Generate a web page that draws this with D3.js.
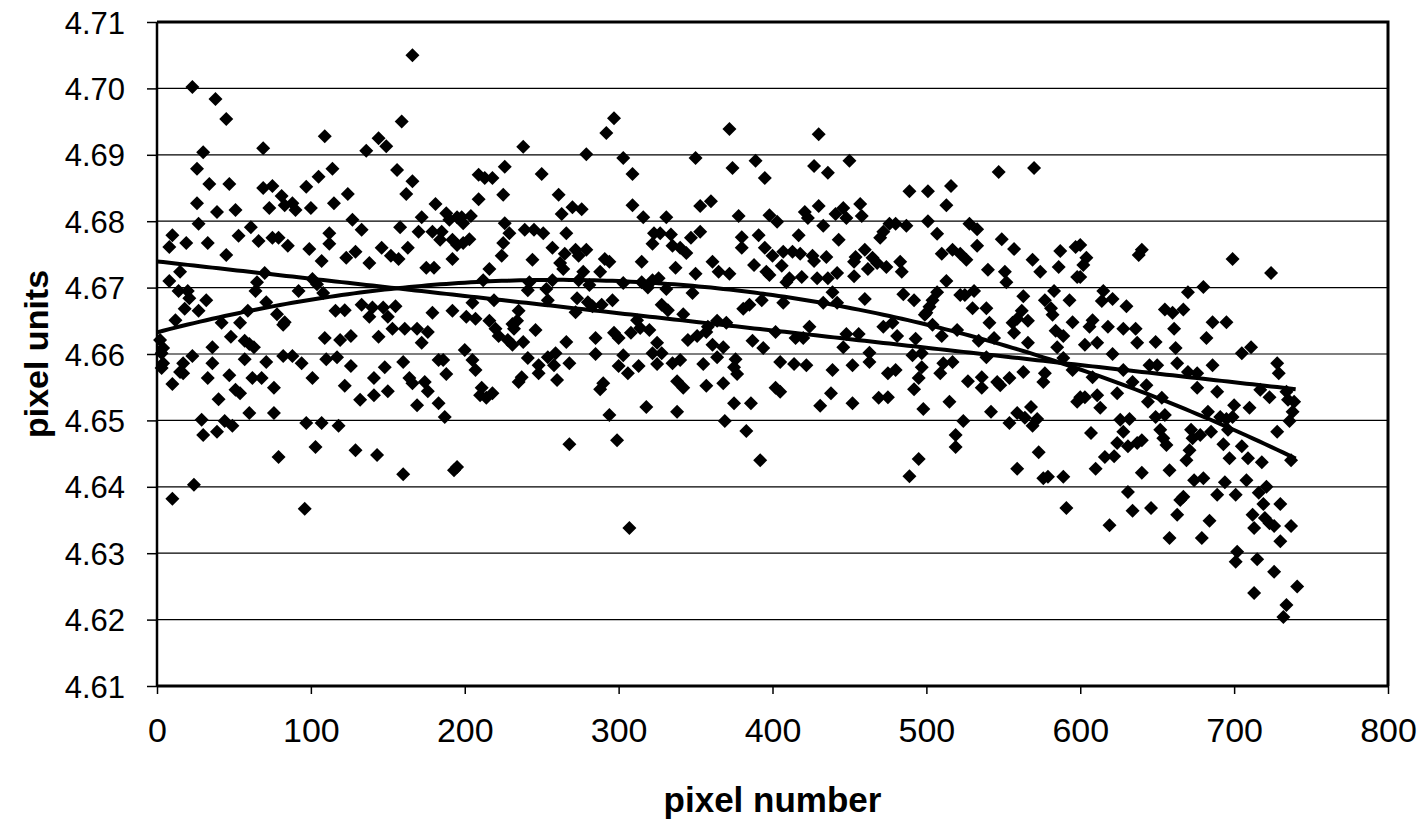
<!DOCTYPE html>
<html>
<head>
<meta charset="utf-8">
<script src="https://cdn.jsdelivr.net/npm/d3@7"></script>
<style>
  body { margin: 0; background: #fff; }
  text { font-family: Arial, "Liberation Sans", sans-serif; fill: #000; }
</style>
</head>
<body>
<svg id="chart" width="1428" height="824"></svg>
<script>
// Axis ticks
var xTicks = [0, 100, 200, 300, 400, 500, 600, 700, 800];
var yTicks = [4.61, 4.62, 4.63, 4.64, 4.65, 4.66, 4.67, 4.68, 4.69, 4.70, 4.71];

// Scatter readings: [pixel number, pixel units]
var points = [
  [166,4.7050],[23,4.7002],[38,4.6984],[45,4.6954],[159,4.6950],[30,4.6904],[69,4.6910],[109,4.6928],
  [144,4.6925],[149,4.6913],[136,4.6906],[26,4.6879],[34,4.6856],[47,4.6856],[26,4.6827],[39,4.6814],
  [51,4.6817],[27,4.6796],[69,4.6850],[75,4.6853],[81,4.6838],[83,4.6824],[88,4.6827],[90,4.6817],
  [73,4.6820],[97,4.6852],[105,4.6867],[114,4.6879],[100,4.6820],[115,4.6827],[124,4.6841],[127,4.6802],
  [133,4.6787],[156,4.6877],[166,4.6860],[162,4.6841],[158,4.6791],[172,4.6806],[181,4.6826],[188,4.6812],
  [190,4.6802],[195,4.6806],[170,4.6784],[179,4.6784],[185,4.6784],[184,4.6772],[192,4.6772],[195,4.6764],
  [10,4.6779],[8,4.6761],[19,4.6767],[33,4.6767],[45,4.6749],[53,4.6778],[61,4.6791],[66,4.6770],
  [75,4.6775],[79,4.6775],[85,4.6763],[99,4.6758],[112,4.6782],[112,4.6766],[107,4.6740],[123,4.6745],
  [129,4.6754],[138,4.6737],[146,4.6760],[152,4.6748],[157,4.6743],[163,4.6760],[175,4.6730],[180,4.6730],
  [192,4.6743],[8,4.6710],[15,4.6724],[14,4.6695],[20,4.6695],[21,4.6684],[32,4.6681],[18,4.6668],
  [27,4.6665],[12,4.6651],[65,4.6708],[64,4.6695],[70,4.6722],[71,4.6678],[78,4.6660],[83,4.6648],
  [82,4.6644],[92,4.6695],[101,4.6713],[104,4.6705],[108,4.6692],[59,4.6665],[42,4.6647],[54,4.6647],
  [48,4.6626],[36,4.6610],[57,4.6620],[60,4.6615],[63,4.6610],[109,4.6624],[119,4.6621],[126,4.6627],
  [116,4.6665],[122,4.6666],[133,4.6674],[138,4.6656],[140,4.6670],[147,4.6670],[150,4.6656],[155,4.6672],
  [153,4.6638],[161,4.6638],[169,4.6638],[144,4.6626],[172,4.6617],[176,4.6633],[179,4.6662],[192,4.6665],
  [2,4.6621],[4,4.6609],[3,4.6601],[4,4.6586],[3,4.6579],[10,4.6555],[15,4.6573],[17,4.6571],
  [17,4.6586],[23,4.6597],[36,4.6586],[33,4.6564],[47,4.6568],[40,4.6532],[29,4.6501],[30,4.6478],
  [39,4.6483],[44,4.6499],[49,4.6492],[51,4.6546],[54,4.6541],[57,4.6592],[60,4.6511],[62,4.6564],
  [68,4.6564],[71,4.6588],[76,4.6549],[76,4.6511],[79,4.6445],[82,4.6597],[88,4.6597],[94,4.6586],
  [101,4.6564],[97,4.6496],[107,4.6496],[103,4.6460],[118,4.6492],[110,4.6592],[117,4.6595],[122,4.6552],
  [126,4.6582],[132,4.6531],[129,4.6455],[141,4.6564],[141,4.6538],[148,4.6580],[150,4.6544],[143,4.6448],
  [160,4.6588],[164,4.6564],[166,4.6556],[169,4.6523],[174,4.6558],[176,4.6544],[160,4.6419],[183,4.6591],
  [186,4.6591],[188,4.6570],[183,4.6526],[187,4.6505],[195,4.6430],[193,4.6425],[24,4.6403],[10,4.6382],
  [96,4.6367],
  [297,4.6955],[292,4.6933],[238,4.6912],[279,4.6901],[303,4.6895],[372,4.6939],[350,4.6895],[389,4.6891],
  [374,4.6880],[395,4.6865],[226,4.6882],[209,4.6870],[213,4.6865],[218,4.6865],[250,4.6871],[309,4.6871],
  [209,4.6833],[225,4.6840],[261,4.6840],[270,4.6821],[276,4.6818],[263,4.6811],[309,4.6824],[316,4.6806],
  [331,4.6806],[353,4.6823],[360,4.6830],[378,4.6808],[198,4.6806],[204,4.6808],[199,4.6797],[226,4.6797],
  [229,4.6782],[239,4.6787],[245,4.6787],[251,4.6782],[266,4.6782],[199,4.6767],[203,4.6773],[225,4.6767],
  [257,4.6760],[265,4.6751],[272,4.6757],[274,4.6748],[279,4.6757],[224,4.6748],[244,4.6742],[216,4.6728],
  [262,4.6737],[264,4.6728],[291,4.6743],[294,4.6739],[323,4.6782],[327,4.6782],[334,4.6780],[322,4.6766],
  [335,4.6763],[340,4.6760],[344,4.6752],[347,4.6775],[353,4.6784],[337,4.6730],[315,4.6739],[350,4.6721],
  [361,4.6739],[365,4.6724],[372,4.6721],[380,4.6776],[380,4.6760],[391,4.6779],[395,4.6760],[388,4.6734],
  [396,4.6724],[277,4.6724],[288,4.6724],[212,4.6711],[242,4.6708],[241,4.6696],[253,4.6698],[254,4.6681],
  [257,4.6711],[274,4.6711],[281,4.6704],[303,4.6707],[315,4.6708],[319,4.6700],[322,4.6711],[326,4.6714],
  [331,4.6698],[348,4.6692],[273,4.6684],[280,4.6678],[283,4.6672],[289,4.6674],[296,4.6681],[205,4.6677],
  [219,4.6681],[235,4.6665],[201,4.6656],[207,4.6653],[216,4.6650],[231,4.6645],[234,4.6650],[232,4.6638],
  [220,4.6638],[222,4.6627],[228,4.6621],[231,4.6614],[238,4.6618],[246,4.6636],[272,4.6663],[328,4.6674],
  [332,4.6666],[342,4.6660],[312,4.6651],[314,4.6639],[320,4.6636],[308,4.6632],[297,4.6632],[300,4.6624],
  [325,4.6617],[266,4.6618],[285,4.6624],[285,4.6600],[345,4.6621],[351,4.6627],[357,4.6633],[358,4.6641],
  [364,4.6650],[370,4.6647],[361,4.6614],[368,4.6610],[381,4.6668],[385,4.6674],[393,4.6681],[387,4.6620],
  [394,4.6609],
  [200,4.6606],[205,4.6591],[207,4.6576],[211,4.6549],[210,4.6538],[214,4.6534],[218,4.6541],[241,4.6594],
  [248,4.6583],[248,4.6571],[254,4.6595],[259,4.6601],[258,4.6583],[268,4.6586],[260,4.6561],[235,4.6558],
  [237,4.6565],[290,4.6556],[288,4.6547],[303,4.6598],[300,4.6582],[306,4.6571],[313,4.6582],[322,4.6601],
  [328,4.6601],[325,4.6585],[335,4.6586],[340,4.6591],[338,4.6559],[342,4.6549],[355,4.6585],[357,4.6552],
  [364,4.6595],[368,4.6556],[376,4.6592],[375,4.6580],[377,4.6570],[318,4.6520],[338,4.6513],[294,4.6508],
  [375,4.6526],[386,4.6526],[369,4.6499],[383,4.6484],[268,4.6464],[299,4.6470],[392,4.6440],[307,4.6338],
  [430,4.6931],[427,4.6883],[436,4.6873],[450,4.6891],[547,4.6874],[570,4.6880],[489,4.6845],[501,4.6845],
  [516,4.6853],[513,4.6824],[430,4.6823],[421,4.6814],[423,4.6805],[441,4.6811],[446,4.6820],[448,4.6805],
  [457,4.6826],[458,4.6808],[398,4.6809],[403,4.6799],[433,4.6793],[476,4.6796],[480,4.6796],[487,4.6793],
  [501,4.6800],[472,4.6784],[470,4.6775],[507,4.6781],[528,4.6796],[533,4.6788],[533,4.6763],[549,4.6773],
  [557,4.6758],[587,4.6755],[597,4.6761],[417,4.6779],[443,4.6772],[400,4.6748],[407,4.6754],[413,4.6754],
  [418,4.6751],[426,4.6748],[427,4.6740],[435,4.6746],[406,4.6733],[398,4.6719],[454,4.6746],[453,4.6739],
  [460,4.6757],[465,4.6745],[468,4.6737],[462,4.6728],[474,4.6731],[483,4.6739],[484,4.6724],[510,4.6751],
  [517,4.6757],[522,4.6751],[526,4.6742],[540,4.6727],[551,4.6724],[552,4.6708],[569,4.6742],[574,4.6724],
  [586,4.6731],[598,4.6716],[513,4.6710],[409,4.6708],[411,4.6714],[419,4.6716],[429,4.6714],[436,4.6714],
  [442,4.6722],[453,4.6717],[439,4.6693],[407,4.6677],[433,4.6677],[442,4.6677],[460,4.6683],[485,4.6690],
  [492,4.6681],[507,4.6693],[504,4.6681],[502,4.6671],[500,4.6662],[499,4.6659],[522,4.6689],[525,4.6689],
  [531,4.6695],[530,4.6669],[539,4.6669],[563,4.6687],[583,4.6695],[577,4.6681],[581,4.6669],[582,4.6659],
  [593,4.6681],[541,4.6647],[556,4.6647],[559,4.6653],[566,4.6650],[562,4.6665],[557,4.6632],[595,4.6648],
  [584,4.6635],[589,4.6627],[585,4.6610],[566,4.6617],[424,4.6641],[415,4.6624],[420,4.6624],[402,4.6633],
  [448,4.6630],[456,4.6630],[446,4.6610],[472,4.6641],[478,4.6647],[481,4.6627],[493,4.6623],[504,4.6644],
  [510,4.6627],[520,4.6636],[534,4.6620],[544,4.6624],[463,4.6602],[491,4.6598],
  [405,4.6588],[414,4.6585],[422,4.6583],[402,4.6549],[405,4.6543],[439,4.6576],[452,4.6583],[463,4.6588],
  [438,4.6541],[431,4.6522],[452,4.6526],[469,4.6534],[475,4.6535],[475,4.6571],[480,4.6576],[497,4.6580],
  [495,4.6564],[492,4.6547],[498,4.6517],[511,4.6586],[517,4.6588],[509,4.6571],[515,4.6528],[497,4.6601],
  [527,4.6559],[536,4.6565],[536,4.6549],[546,4.6558],[548,4.6553],[554,4.6564],[563,4.6573],[577,4.6571],
  [576,4.6558],[542,4.6513],[524,4.6499],[519,4.6478],[519,4.6460],[495,4.6442],[489,4.6416],[554,4.6496],
  [559,4.6511],[564,4.6504],[568,4.6520],[569,4.6492],[572,4.6502],[573,4.6452],[559,4.6427],[576,4.6413],
  [579,4.6415],[589,4.6415],[591,4.6368],[598,4.6528],[595,4.6576],[589,4.6594],[539,4.6595],
  [640,4.6757],[638,4.6749],[699,4.6743],[724,4.6722],[600,4.6764],[604,4.6745],[602,4.6734],[600,4.6716],
  [615,4.6695],[614,4.6680],[621,4.6683],[630,4.6672],[670,4.6693],[680,4.6701],[655,4.6667],[660,4.6662],
  [667,4.6667],[608,4.6651],[606,4.6641],[618,4.6641],[628,4.6638],[636,4.6638],[686,4.6648],[695,4.6648],
  [661,4.6638],[682,4.6624],[603,4.6614],[611,4.6617],[637,4.6617],[649,4.6618],[662,4.6609],[705,4.6601],
  [711,4.6610],[621,4.6600],
  [686,4.6583],[728,4.6586],[729,4.6571],[663,4.6586],[608,4.6565],[600,4.6535],[628,4.6576],[645,4.6583],
  [650,4.6583],[676,4.6571],[676,4.6549],[670,4.6573],[689,4.6543],[634,4.6558],[643,4.6553],[624,4.6541],
  [603,4.6535],[611,4.6538],[613,4.6519],[644,4.6528],[653,4.6534],[717,4.6546],[723,4.6535],[734,4.6543],
  [735,4.6531],[739,4.6528],[738,4.6513],[736,4.6499],[710,4.6519],[700,4.6523],[683,4.6513],[691,4.6505],
  [695,4.6502],[699,4.6505],[696,4.6486],[685,4.6483],[728,4.6483],[626,4.6501],[632,4.6502],[649,4.6505],
  [655,4.6508],[607,4.6481],[628,4.6483],[624,4.6466],[631,4.6461],[637,4.6466],[640,4.6470],[652,4.6486],
  [654,4.6473],[656,4.6463],[672,4.6486],[673,4.6473],[678,4.6478],[671,4.6455],[669,4.6440],[693,4.6464],
  [705,4.6461],[709,4.6443],[718,4.6437],[697,4.6443],[616,4.6445],[622,4.6446],[610,4.6427],[640,4.6421],
  [658,4.6425],[674,4.6410],[680,4.6413],[694,4.6407],[708,4.6410],[737,4.6440],[631,4.6392],[665,4.6380],
  [663,4.6358],[667,4.6385],[689,4.6388],[701,4.6388],[716,4.6391],[721,4.6400],[634,4.6364],[646,4.6368],
  [619,4.6342],[658,4.6323],[679,4.6323],[684,4.6349],[719,4.6374],[730,4.6374],[712,4.6358],[713,4.6338],
  [720,4.6353],[723,4.6345],[726,4.6341],[737,4.6341],[730,4.6318],[702,4.6302],[701,4.6287],[715,4.6291],
  [726,4.6272],[741,4.6250],[713,4.6240],[734,4.6222],[732,4.6204]
];

var svg = d3.select("#chart"),
    margin = {top: 22, right: 40, bottom: 138, left: 157},
    width = 1388 - margin.left,
    height = 686 - margin.top;

var x = d3.scaleLinear().domain([0, 800]).range([margin.left, margin.left + width]);
var y = d3.scaleLinear().domain([4.61, 4.71]).range([margin.top + height, margin.top]);

// Least squares fits, like the spreadsheet trendlines (linear and 2nd order)
function fitLinear(pts) {
  var n = pts.length, sx = 0, sy = 0, sxx = 0, sxy = 0;
  pts.forEach(function(p) { sx += p[0]; sy += p[1]; sxx += p[0] * p[0]; sxy += p[0] * p[1]; });
  var b = (n * sxy - sx * sy) / (n * sxx - sx * sx);
  return [(sy - b * sx) / n, b];
}
function fitQuadratic(pts) {
  // normal equations, solved by Cramer's rule
  var s = [0, 0, 0, 0, 0], t = [0, 0, 0];
  pts.forEach(function(p) {
    var xv = p[0], yv = p[1] - 4.66;
    for (var k = 0; k < 5; k++) s[k] += Math.pow(xv, k);
    for (var k = 0; k < 3; k++) t[k] += yv * Math.pow(xv, k);
  });
  var m = [[s[0], s[1], s[2]], [s[1], s[2], s[3]], [s[2], s[3], s[4]]];
  function det(a) {
    return a[0][0] * (a[1][1] * a[2][2] - a[1][2] * a[2][1]) -
           a[0][1] * (a[1][0] * a[2][2] - a[1][2] * a[2][0]) +
           a[0][2] * (a[1][0] * a[2][1] - a[1][1] * a[2][0]);
  }
  var d = det(m), c = [];
  for (var j = 0; j < 3; j++) {
    var mj = m.map(function(row, i) { var r = row.slice(); r[j] = t[i]; return r; });
    c.push(det(mj) / d);
  }
  c[0] += 4.66;
  return c;
}

var lin = fitLinear(points), quad = fitQuadratic(points);
var xMax = d3.max(points, function(d) { return d[0]; });
var xs = d3.range(0, xMax + 1, 4);

// gridlines
svg.append("g").selectAll("line")
  .data(yTicks)
  .enter().append("line")
    .attr("x1", x(0)).attr("x2", x(800))
    .attr("y1", function(d) { return y(d); }).attr("y2", function(d) { return y(d); })
    .attr("stroke", "#000").attr("stroke-width", 1.2);

// axes
var yAxis = svg.append("g")
    .attr("transform", "translate(" + x(0) + ",0)")
    .call(d3.axisLeft(y).tickValues(yTicks).tickFormat(d3.format(".2f")).tickSize(10).tickPadding(22));
var xAxis = svg.append("g")
    .attr("transform", "translate(0," + y(4.61) + ")")
    .call(d3.axisBottom(x).tickValues(xTicks).tickFormat(d3.format("d")).tickSize(8).tickPadding(24));

yAxis.select(".domain").attr("stroke-width", 2.5).attr("d", "M0," + y(4.61) + "V" + y(4.71));
xAxis.select(".domain").attr("stroke-width", 3).attr("d", "M" + x(0) + ",0H" + x(800));
yAxis.selectAll(".tick line").attr("stroke-width", 1.5);
xAxis.selectAll(".tick line").attr("stroke-width", 1.5);
yAxis.selectAll("text").style("font-size", "31px").attr("dy", "0.36em");
xAxis.selectAll("text").style("font-size", "34px");

// plot area frame (top and right)
svg.append("path")
    .attr("d", "M" + x(0) + "," + y(4.71) + "H" + x(800) + "V" + y(4.61))
    .attr("fill", "none").attr("stroke", "#000").attr("stroke-width", 3);

// data points
var diamond = "M0,-7L7,0L0,7L-7,0Z";
svg.append("g").selectAll("path")
  .data(points)
  .enter().append("path")
    .attr("d", diamond)
    .attr("transform", function(d) { return "translate(" + x(d[0]) + "," + y(d[1]) + ")"; })
    .attr("fill", "#000");

// trendlines
var line = d3.line()
    .x(function(d) { return x(d[0]); })
    .y(function(d) { return y(d[1]); });
svg.append("path")
    .datum(xs.map(function(v) { return [v, lin[0] + lin[1] * v]; }))
    .attr("d", line).attr("fill", "none").attr("stroke", "#000").attr("stroke-width", 4);
svg.append("path")
    .datum(xs.map(function(v) { return [v, quad[0] + quad[1] * v + quad[2] * v * v]; }))
    .attr("d", line).attr("fill", "none").attr("stroke", "#000").attr("stroke-width", 4);

// axis titles
svg.append("text")
    .attr("transform", "translate(48," + (margin.top + height / 2) + ") rotate(-90)")
    .attr("text-anchor", "middle")
    .style("font-size", "34px").style("font-weight", "bold")
    .text("pixel units");
svg.append("text")
    .attr("x", x(400)).attr("y", 812)
    .attr("text-anchor", "middle")
    .style("font-size", "35px").style("font-weight", "bold")
    .text("pixel number");
</script>
</body>
</html>
